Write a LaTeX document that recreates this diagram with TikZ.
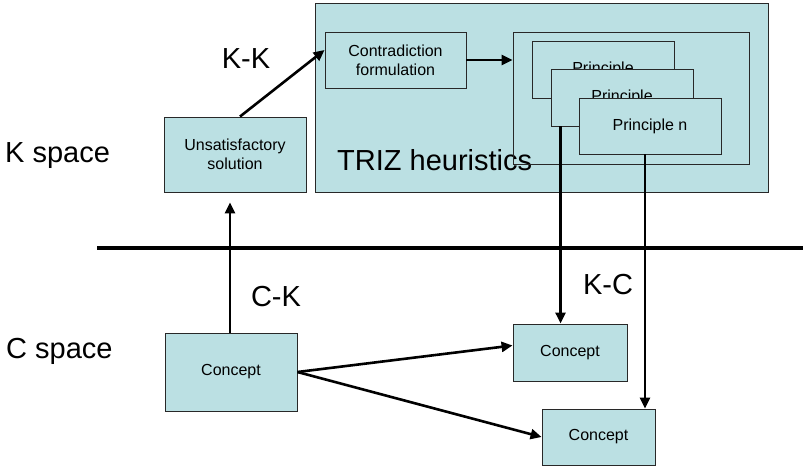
\documentclass[tikz,border=0pt]{standalone}
\usepackage{fontspec}
\setmainfont{Liberation Sans}
\usetikzlibrary{arrows.meta,calc}
\definecolor{boxfill}{RGB}{187,224,227}
\definecolor{boxline}{RGB}{40,40,40}
\begin{document}
\begin{tikzpicture}[x=1pt,y=-1pt,
  box/.style={draw=boxline,line width=0.9pt,fill=boxfill,inner sep=0pt,align=center,
    font=\fontsize{16}{19}\selectfont},
  frame/.style={draw=boxline,line width=0.9pt,inner sep=0pt},
  big/.style={inner sep=0pt,font=\fontsize{29}{34}\selectfont},
  link/.style={line width=2.6pt,-{Triangle[length=11pt,width=10pt]}},
  sep/.style={line width=4pt}]
\useasboundingbox (0,0) rectangle (803,466);

% TRIZ heuristics block
\node[box,minimum width=453pt,minimum height=189pt] (triz) at (541.5,97.5) {};
\node[big,anchor=base west] (trizlabel) at (337,170) {TRIZ heuristics};
\node[box,minimum width=141pt,minimum height=56pt] (contra) at (395.5,60) {Contradiction\\formulation};
\node[frame,minimum width=236pt,minimum height=132pt] (principles) at (631,98) {};
\node[box,minimum width=142pt,minimum height=57pt] (p1) at (603,69.5) {Principle};
\node[box,minimum width=142pt,minimum height=57pt] (p2) at (622,97.5) {Principle};
\node[box,minimum width=142pt,minimum height=56pt] (pn) at (650,126) {Principle n};

% K space and C space boxes
\node[box,minimum width=142pt,minimum height=75pt] (unsat) at (235,154.5) {Unsatisfactory\\solution};
\node[box,minimum width=132pt,minimum height=78pt] (c1) at (231,372) {Concept};
\node[box,minimum width=114pt,minimum height=57pt] (c2) at (570,352.5) {Concept};
\node[box,minimum width=113pt,minimum height=56pt] (c3) at (598.5,437) {Concept};

% Space and operator labels
\node[big,anchor=base west] (kspace) at (5,162) {K space};
\node[big,anchor=base west] (cspace) at (6,358) {C space};
\node[big] (kk) at (246,59) {K-K};
\node[big] (ck) at (276,297) {C-K};
\node[big] (kc) at (608,285) {K-C};

% Separator between the two spaces
\coordinate (sepL) at (97,248);
\coordinate (sepR) at (803,248);
\draw[sep] (sepL) -- (sepR);

% Operators
\draw[link] ([xshift=5pt]unsat.north) -- ([yshift=10pt]contra.west);
\draw[link] (contra.east) -- (contra.east -| principles.west);
\draw[link,shorten >=10pt] ([xshift=-1pt]c1.north) -- ([xshift=-1pt]c1.north |- unsat.south);
\draw[link] (c1.east) -- ([yshift=7pt]c2.west);
\draw[link] (c1.east) -- (c3.west);
\draw[link] ([xshift=10pt]p2.south west) -- ([xshift=10pt]p2.south west |- c2.north);
\draw[link] ([xshift=-5pt]pn.south) -- ([xshift=-5pt]pn.south |- c3.north);
\end{tikzpicture}
\end{document}
